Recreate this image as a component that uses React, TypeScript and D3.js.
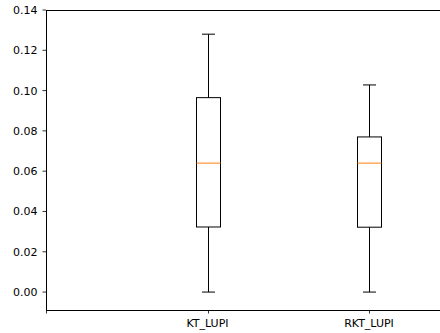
import React from "react";
import * as d3 from "d3";

const categories = ["", "KT_LUPI", "RKT_LUPI"];
const boxes = [
  { pos: 1, low: 0.0, q1: 0.0323, median: 0.064, q3: 0.0965, high: 0.128 },
  { pos: 2, low: 0.0, q1: 0.0322, median: 0.064, q3: 0.077, high: 0.1028 },
];
const yTicks = [0.0, 0.02, 0.04, 0.06, 0.08, 0.1, 0.12, 0.14];

const W = 440;
const H = 333;
const margin = { top: 10, left: 46, bottom: 23 };

const App: React.FC = () => {
  const x = d3
    .scaleLinear()
    .domain([0, 1])
    .range([margin.left, margin.left + 161.5]);
  const y = d3
    .scaleLinear()
    .domain([-0.0089, 0.14])
    .range([H - margin.bottom, margin.top]);

  const xRight = W + 20;
  const boxHalf = 12;
  const capHalf = 6.5;
  const font = "DejaVu Sans, sans-serif";

  return (
    <svg width={W} height={H} style={{ position: "absolute", left: 0, top: 0 }}>
      <rect width={W} height={H} fill="#fff" />

      {/* 박스플롯 */}
      {boxes.map((b, i) => {
        const cx = Math.round(x(b.pos)) + 0.5;
        return (
          <g key={i} stroke="#000" strokeWidth={1} fill="none">
            <line x1={cx} x2={cx} y1={y(b.q3)} y2={y(b.high)} />
            <line x1={cx} x2={cx} y1={y(b.q1)} y2={y(b.low)} />
            <line x1={cx - capHalf} x2={cx + capHalf} y1={y(b.high)} y2={y(b.high)} />
            <line x1={cx - capHalf} x2={cx + capHalf} y1={y(b.low)} y2={y(b.low)} />
            <rect
              x={cx - boxHalf}
              y={y(b.q3)}
              width={boxHalf * 2}
              height={y(b.q1) - y(b.q3)}
            />
            <line
              x1={cx - boxHalf}
              x2={cx + boxHalf}
              y1={y(b.median)}
              y2={y(b.median)}
              stroke="#ff7f0e"
            />
          </g>
        );
      })}

      {/* 축 */}
      <g stroke="#000" strokeWidth={1} fill="none">
        <line x1={margin.left + 0.5} x2={margin.left + 0.5} y1={margin.top} y2={H - margin.bottom} />
        <line x1={margin.left} x2={xRight} y1={margin.top + 0.5} y2={margin.top + 0.5} />
        <line x1={margin.left} x2={xRight} y1={H - margin.bottom + 0.5} y2={H - margin.bottom + 0.5} />
      </g>

      {/* Y축 */}
      {yTicks.map((t, i) => (
        <g key={i}>
          <line
            x1={margin.left - 3.5}
            x2={margin.left}
            y1={y(t)}
            y2={y(t)}
            stroke="#000"
            strokeWidth={0.8}
          />
          <text
            x={margin.left - 8.5}
            y={y(t)}
            dy={4}
            textAnchor="end"
            fontSize={11}
            fontFamily={font}
            fill="#000"
          >
            {t.toFixed(2)}
          </text>
        </g>
      ))}

      {/* X축 */}
      {categories.map((c, i) => (
        <g key={i}>
          <line
            x1={Math.round(x(i)) + 0.5}
            x2={Math.round(x(i)) + 0.5}
            y1={H - margin.bottom}
            y2={H - margin.bottom + 3.5}
            stroke="#000"
            strokeWidth={0.8}
          />
          <text
            x={x(i)}
            y={H - margin.bottom + 17}
            textAnchor="middle"
            fontSize={11}
            fontFamily={font}
            fill="#000"
          >
            {c}
          </text>
        </g>
      ))}
    </svg>
  );
};

export default App;
